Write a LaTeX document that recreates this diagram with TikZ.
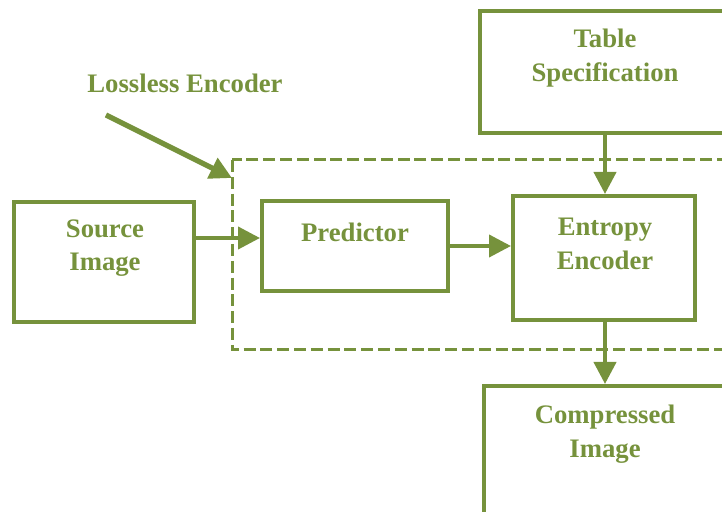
\documentclass[tikz,border=0pt]{standalone}
\usepackage{fontspec}
\setmainfont{Liberation Serif}
\usepackage{tikz}
\usetikzlibrary{arrows.meta,calc,positioning}
\definecolor{leafgreen}{RGB}{118,146,60}
\tikzset{%
	block/.style    = {draw=leafgreen, line width=0.1cm, rectangle}, % Box
	caption/.style  = {text=leafgreen, font=\fontsize{19}{24}\selectfont\bfseries, align=center}, % Text
	frame/.style    = {draw=leafgreen, line width=0.075cm, dash pattern=on 0.3cm off 0.12cm}, % Encoder part
	arr/.style      = {draw=leafgreen, line width=0.1cm, -{Triangle[length=0.55cm,width=0.55cm]}},
}

\begin{document}
\begin{tikzpicture}
		\useasboundingbox (0,0) rectangle (18.05,-12.8);
		\clip (0,0) rectangle (18.05,-12.8);
		\draw[frame] (5.8,-4.0) rectangle (18.6,-8.75);
		\node[block, minimum width=4.5cm, minimum height=3.0cm] (src) at (2.6,-6.55) {};
		\node[block, minimum width=4.65cm, minimum height=2.25cm] (pred) at (8.875,-6.15) {};
		\node[block, minimum width=4.55cm, minimum height=3.1cm] (ent) at (15.1,-6.45) {};
		\node[block, minimum width=6.25cm, minimum height=3.05cm] (tab) at (15.125,-1.8) {};
		\node[block, minimum width=6.05cm, minimum height=3.3cm] (cmp) at (15.125,-11.3) {};
		\node[caption] (srct) at (2.625,-6.2) {Source\\Image};
		\node[caption] (predt) at (8.875,-5.8) {Predictor};
		\node[caption] (entt) at (15.125,-6.1) {Entropy\\Encoder};
		\node[caption] (tabt) at (15.125,-1.45) {Table\\Specification};
		\node[caption] (cmpt) at (15.125,-10.85) {Compressed\\Image};
		\node[caption] (loss) at (4.625,-2.075) {Lossless Encoder};
		\coordinate (lossa) at (2.65,-2.875);
		\coordinate (lossb) at (5.8,-4.45);
		\coordinate (srcout) at ([yshift=0.6cm]src.east);
		\draw[arr, line width=0.13cm] (lossa) -- (lossb);
		\draw[arr] (srcout) -- (srcout -| pred.west);
		\draw[arr] (pred.east) -- (pred.east -| ent.west);
		\draw[arr] (tab.south) -- (tab.south |- ent.north);
		\draw[arr] (tab.south |- ent.south) -- (tab.south |- cmp.north);
		\end{tikzpicture}
\end{document}
